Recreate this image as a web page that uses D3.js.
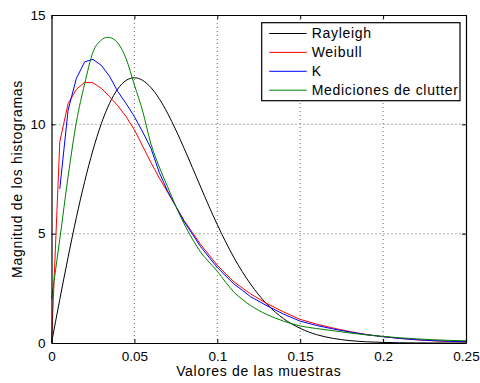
<!DOCTYPE html>
<html>
<head>
<meta charset="utf-8">
<script src="https://cdn.jsdelivr.net/npm/d3@7"></script>
<style>
  body { margin: 0; background: #fff; }
  svg { display: block; font-family: "Liberation Sans", Arial, sans-serif; }
</style>
</head>
<body>
<svg width="480" height="383"></svg>
<script>
// series (x, y pairs)
let rayleighX = [0, 0.005, 0.01, 0.015, 0.02, 0.025, 0.03, 0.035, 0.04, 0.045, 0.05, 0.055, 0.06, 0.065, 0.07, 0.075, 0.08, 0.085, 0.09, 0.095, 0.1, 0.105, 0.11, 0.115, 0.12, 0.125, 0.13, 0.14, 0.15, 0.16, 0.17, 0.18, 0.19, 0.2, 0.21, 0.22, 0.23, 0.24, 0.25];
let rayleighY = [0, 1.99, 3.92, 5.74, 7.38, 8.82, 10.02, 10.96, 11.62, 12.01, 12.13, 12.01, 11.68, 11.17, 10.51, 9.74, 8.9, 8.02, 7.13, 6.25, 5.41, 4.63, 3.91, 3.27, 2.7, 2.2, 1.77, 1.11, 0.67, 0.38, 0.21, 0.11, 0.055, 0.027, 0.012, 0.005, 0.002, 0.001, 0];

let weibullX = [0, 0.005, 0.01, 0.015, 0.02, 0.025, 0.03, 0.035, 0.04, 0.045, 0.05, 0.055, 0.06, 0.065, 0.07, 0.075, 0.08, 0.085, 0.09, 0.1, 0.11, 0.12, 0.13, 0.14, 0.15, 0.16, 0.17, 0.18, 0.19, 0.2, 0.21, 0.22, 0.23, 0.24, 0.25];
let weibullY = [0, 9.2, 10.95, 11.6, 11.92, 11.9, 11.65, 11.27, 10.85, 10.35, 9.75, 9.0, 8.25, 7.55, 6.9, 6.25, 5.6, 5.05, 4.5, 3.55, 2.8, 2.25, 1.8, 1.42, 1.08, 0.86, 0.68, 0.52, 0.39, 0.29, 0.21, 0.15, 0.1, 0.07, 0.05];

let kX = [0.005, 0.01, 0.015, 0.02, 0.025, 0.03, 0.035, 0.04, 0.045, 0.05, 0.055, 0.06, 0.065, 0.07, 0.075, 0.08, 0.085, 0.09, 0.1, 0.11, 0.115, 0.12, 0.13, 0.14, 0.15, 0.16, 0.17, 0.18, 0.19, 0.2, 0.21, 0.22, 0.23, 0.24, 0.25];
let kY = [7.05, 10.65, 12.1, 12.86, 12.97, 12.7, 12.2, 11.5, 10.95, 10.35, 9.65, 8.9, 7.8, 6.95, 6.25, 5.55, 4.98, 4.4, 3.45, 2.7, 2.42, 2.12, 1.7, 1.32, 1.0, 0.8, 0.64, 0.5, 0.38, 0.29, 0.21, 0.15, 0.11, 0.08, 0.06];

let clutterX = [0, 0.005, 0.01, 0.015, 0.02, 0.025, 0.03, 0.0336, 0.035, 0.04, 0.045, 0.05, 0.055, 0.06, 0.065, 0.07, 0.075, 0.08, 0.085, 0.09, 0.095, 0.1, 0.105, 0.11, 0.115, 0.12, 0.125, 0.13, 0.14, 0.15, 0.16, 0.17, 0.18, 0.19, 0.2, 0.21, 0.22, 0.23, 0.24, 0.25];
let clutterY = [2.0, 4.75, 7.6, 10.1, 11.85, 13.3, 13.85, 13.98, 13.97, 13.72, 13.0, 11.8, 10.6, 9.1, 8.05, 7.15, 6.25, 5.45, 4.75, 4.15, 3.7, 3.28, 2.78, 2.33, 2.0, 1.72, 1.49, 1.3, 1.0, 0.78, 0.66, 0.56, 0.46, 0.37, 0.3, 0.24, 0.19, 0.15, 0.12, 0.1];

let xTicks = [0, 0.05, 0.1, 0.15, 0.2, 0.25];
let xTickLabels = ['0', '0.05', '0.1', '0.15', '0.2', '0.25'];
let yTicks = [0, 5, 10, 15];

let seriesNames = ['Rayleigh', 'Weibull', 'K', 'Mediciones de clutter'];
let seriesColors = ['#000000', '#ff0000', '#0000ff', '#008000'];

let margin = { top: 15, right: 14, bottom: 40, left: 51.5 },
  width = 480 - margin.left - margin.right,
  height = 383 - margin.top - margin.bottom;

let svg = d3.select('svg')
  .append('g')
  .attr('transform', 'translate(' + margin.left + ',' + margin.top + ')');

let x = d3.scaleLinear().domain([0, 0.25]).range([0, width]);
let y = d3.scaleLinear().domain([0, 15]).range([height, 0]);

// dotted grid
svg.append('g').selectAll('line')
  .data(xTicks.slice(1, -1))
  .join('line')
  .attr('x1', d => x(d)).attr('x2', d => x(d))
  .attr('y1', 0).attr('y2', height)
  .attr('stroke', '#444').attr('stroke-width', 0.8)
  .attr('stroke-dasharray', '1,3');
svg.append('g').selectAll('line')
  .data(yTicks.slice(1, -1))
  .join('line')
  .attr('y1', d => y(d)).attr('y2', d => y(d))
  .attr('x1', 0).attr('x2', width)
  .attr('stroke', '#444').attr('stroke-width', 0.8)
  .attr('stroke-dasharray', '1,3');

// curves (the fitted K / Weibull look piecewise linear, the others smooth)
let series = [
  { xs: rayleighX, ys: rayleighY, curve: d3.curveMonotoneX },
  { xs: weibullX, ys: weibullY, curve: d3.curveLinear },
  { xs: kX, ys: kY, curve: d3.curveLinear },
  { xs: clutterX, ys: clutterY, curve: d3.curveMonotoneX }
];
let plot = svg.append('g');
series.forEach((s, i) => {
  let line = d3.line().x(d => x(d[0])).y(d => y(d[1])).curve(s.curve);
  plot.append('path')
    .datum(s.xs.map((v, j) => [v, s.ys[j]]))
    .attr('fill', 'none')
    .attr('stroke', seriesColors[i])
    .attr('stroke-width', 1)
    .attr('stroke-linejoin', 'round')
    .attr('d', line);
});

// axes, ticks inward on all sides
let tickLen = 4;
let bottomAxis = svg.append('g')
  .attr('transform', 'translate(0,' + height + ')')
  .call(d3.axisBottom(x).tickValues(xTicks).tickFormat((d, i) => xTickLabels[i]).tickSizeInner(-tickLen).tickSizeOuter(0).tickPadding(8));
let leftAxis = svg.append('g')
  .call(d3.axisLeft(y).tickValues(yTicks).tickFormat(d3.format('d')).tickSizeInner(-tickLen).tickSizeOuter(0).tickPadding(6));
let topAxis = svg.append('g')
  .call(d3.axisTop(x).tickValues(xTicks).tickFormat('').tickSizeInner(-tickLen).tickSizeOuter(0));
let rightAxis = svg.append('g')
  .attr('transform', 'translate(' + width + ',0)')
  .call(d3.axisRight(y).tickValues(yTicks).tickFormat('').tickSizeInner(-tickLen).tickSizeOuter(0));

[bottomAxis, leftAxis, topAxis, rightAxis].forEach(a => {
  a.select('.domain').attr('stroke', '#000').attr('stroke-width', 1.2);
  a.selectAll('.tick line').attr('stroke', '#000');
  a.selectAll('.tick text').attr('font-size', 13.5).attr('fill', '#000')
    .attr('font-family', '"Liberation Sans", Arial, sans-serif');
});

// axis titles
svg.append('text')
  .attr('x', width / 2).attr('y', height + 33)
  .attr('text-anchor', 'middle')
  .attr('font-size', 14).attr('letter-spacing', '0.7px')
  .text('Valores de las muestras');
svg.append('text')
  .attr('transform', 'translate(' + (-29.5) + ',' + (height / 2) + ') rotate(-90)')
  .attr('text-anchor', 'middle')
  .attr('font-size', 14).attr('letter-spacing', '0.7px')
  .text('Magnitud de los histogramas');

// legend
let legend = svg.append('g').attr('transform', 'translate(' + (261.7 - margin.left) + ',' + (22.7 - margin.top) + ')');
legend.append('rect')
  .attr('width', 198.3).attr('height', 78)
  .attr('fill', '#fff').attr('stroke', '#000').attr('stroke-width', 1.2);
seriesNames.forEach((name, i) => {
  let ly = 10.8 + i * 18.9;
  legend.append('line')
    .attr('x1', 7.5).attr('x2', 45)
    .attr('y1', ly).attr('y2', ly)
    .attr('stroke', seriesColors[i]).attr('stroke-width', 1);
  legend.append('text')
    .attr('x', 50).attr('y', ly + 5)
    .attr('font-size', 14).attr('letter-spacing', '0.7px')
    .text(name);
});
</script>
</body>
</html>
